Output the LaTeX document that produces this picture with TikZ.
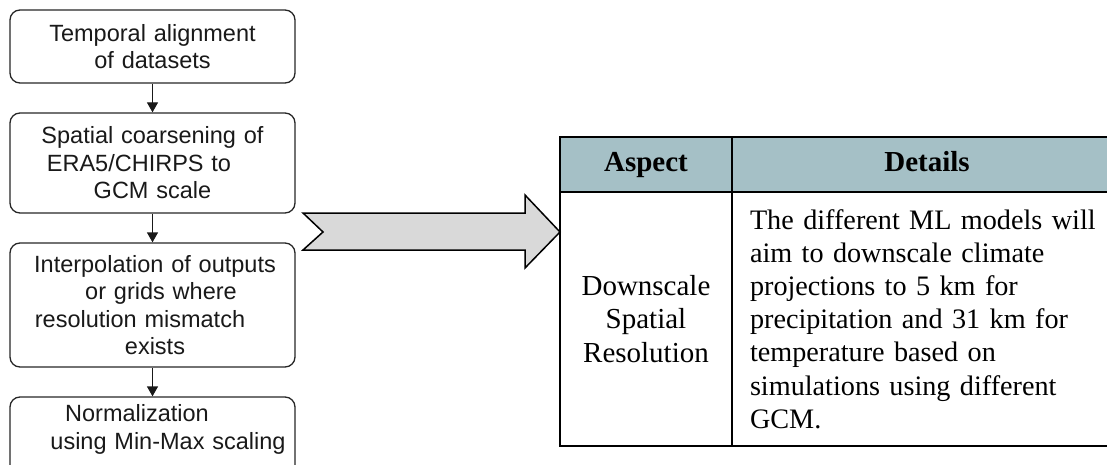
\documentclass[tikz,border=0pt]{standalone}
\usepackage{fontspec}
\setmainfont{Liberation Serif}
\newfontfamily\arialfont{Liberation Sans}
\usetikzlibrary{arrows.meta}
\definecolor{hdr}{RGB}{165,192,198}
\definecolor{arrowgray}{RGB}{217,217,217}
\newcommand\lk[1]{\leavevmode\kern#1\relax}
\begin{document}
\begin{tikzpicture}[x=1pt,y=-1pt,
  flowbox/.style={draw=black!85, line width=1.3pt, rounded corners=10pt,
    minimum width=285pt, align=center, text width=275pt, inner sep=0pt,
    font=\arialfont\fontsize{23.5}{27.5}\selectfont, text=black!90},
  flowtext/.style={align=center, text width=275pt, inner sep=0pt,
    font=\arialfont\fontsize{23.5}{27.5}\selectfont, text=black!90},
  flowarrow/.style={draw=black!90, line width=1.3pt, -{Triangle[length=10pt,width=11pt]}},
  cell/.style={draw=black, line width=2pt, inner sep=0pt,
    font=\fontsize{29}{33.2}\selectfont},
  hcell/.style={cell, fill=hdr, text height=20pt, text depth=6pt,
    font=\bfseries\fontsize{29}{33.2}\selectfont},
  blockarrow/.style={draw=black, line width=1.5pt, fill=arrowgray, line join=miter},
]
\useasboundingbox (0,0) rectangle (1107,465);
\clip (0,0) rectangle (1107,465);

% flowchart boxes
\node[flowbox, minimum height=73pt] (n1) at (152.5,46.5)
  {Temporal alignment\\of datasets};
\node[flowbox, minimum height=100pt] (n2) at (152.5,163)
  {Spatial coarsening of\\ERA5/CHIRPS to\kern27pt\\GCM scale};
\node[flowbox, minimum height=124pt] (n3) at (152.5,305)
  {\lk{5pt}Interpolation of outputs\\\lk{17pt}or grids where\\resolution mismatch\kern25pt\\\lk{5pt}exists};
\node[flowbox, minimum height=103pt] (n4) at (152.5,448.5) {};
\node[flowtext, anchor=north] (t4) at ([yshift=-8pt]n4.north)
  {Normalization\kern31pt\\\lk{31pt}using Min-Max scaling};

\draw[flowarrow] (n1) -- (n2);
\draw[flowarrow] (n2) -- (n3);
\draw[flowarrow] (n3) -- (n4);

% table
\node[hcell, minimum width=172pt, minimum height=55pt, anchor=north west] (h1) at (559,136) {Aspect};
\node[hcell, minimum width=390pt, minimum height=55pt, anchor=north west] (h2) at (731,136) {Details};
\node[cell, minimum width=172pt, minimum height=254pt, anchor=north west, align=center] (b1) at (559,191)
  {Downscale\\Spatial\\Resolution};
\node[cell, minimum width=390pt, minimum height=254pt, anchor=north west, align=left,
  text width=360pt, inner xsep=15pt, font=\fontsize{28.2}{33.2}\selectfont] (b2) at (731,191)
  {\lk{3pt}The different ML models will\\\lk{3pt}aim to downscale climate\\\lk{3pt}projections to 5 km for\\\lk{3pt}precipitation and 31 km for\\\lk{3pt}temperature based on\\\lk{3pt}simulations using different\\\lk{3pt}GCM.};

% block arrow from flowchart to table
\coordinate (tip) at (560,232);
\draw[blockarrow] (303,213) -- (525,213) -- (525,195) -- (tip) -- (525,268)
  -- (525,250) -- (303,250) -- (323,232) -- cycle;
\end{tikzpicture}
\end{document}
